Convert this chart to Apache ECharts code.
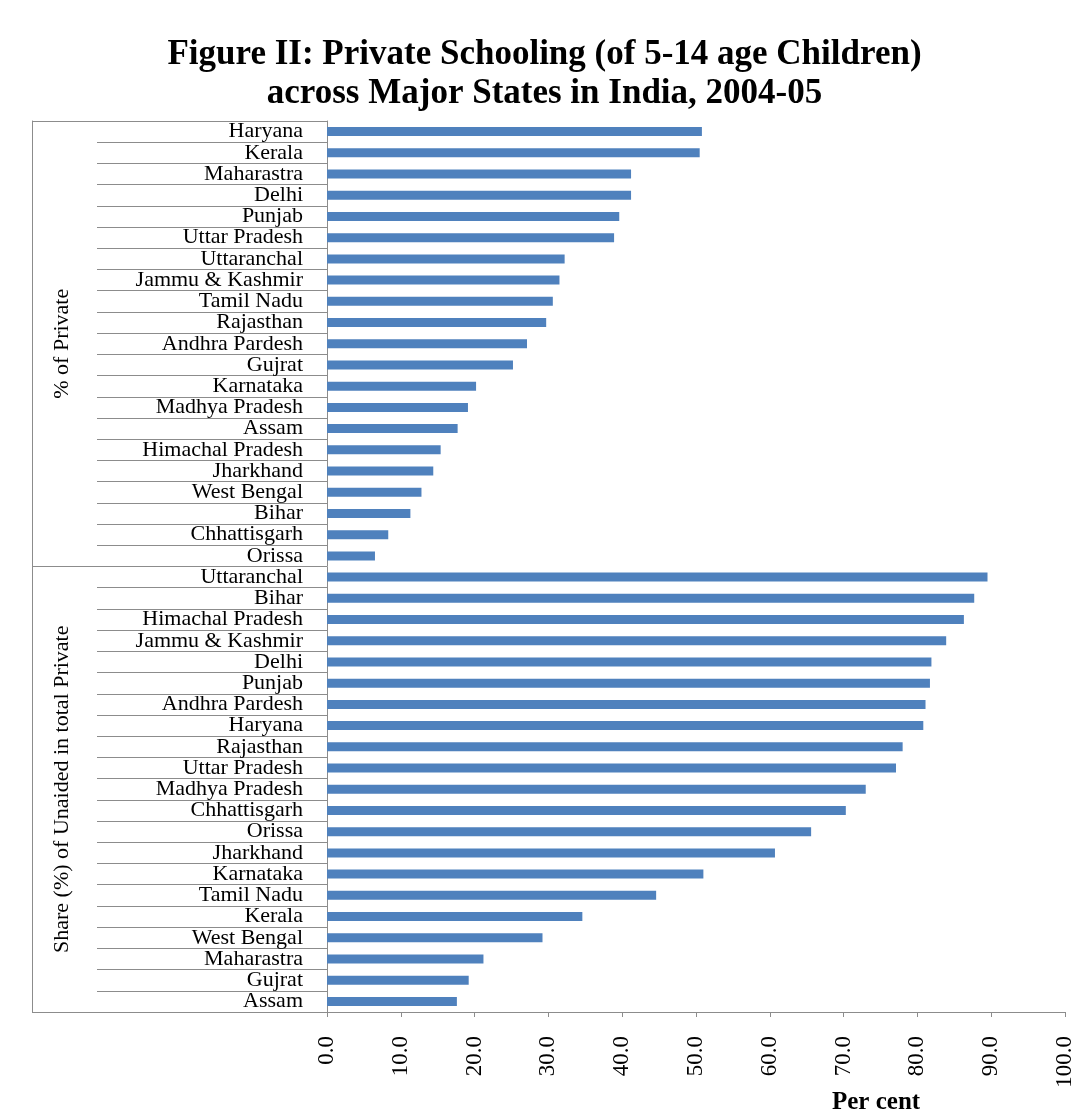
<!DOCTYPE html>
<html>
<head>
<meta charset="utf-8">
<script src="https://cdn.jsdelivr.net/npm/echarts@6/dist/echarts.min.js"></script>
<style>
html, body { margin: 0; padding: 0; background: #fff; }
#chart { width: 1089px; height: 1111px; }
</style>
</head>
<body>
<div id="chart"></div>
<script>
// % of private, 5-14 age children
var privateStates = ['Haryana', 'Kerala', 'Maharastra', 'Delhi', 'Punjab', 'Uttar Pradesh', 'Uttaranchal',
	'Jammu & Kashmir', 'Tamil Nadu', 'Rajasthan', 'Andhra Pardesh', 'Gujrat', 'Karnataka', 'Madhya Pradesh',
	'Assam', 'Himachal Pradesh', 'Jharkhand', 'West Bengal', 'Bihar', 'Chhattisgarh', 'Orissa'];
var privateShare = [50.8, 50.5, 41.2, 41.2, 39.6, 38.9, 32.2, 31.5, 30.6, 29.7, 27.1, 25.2, 20.2, 19.1,
	17.7, 15.4, 14.4, 12.8, 11.3, 8.3, 6.5];

// share of unaided in total private
var unaidedStates = ['Uttaranchal', 'Bihar', 'Himachal Pradesh', 'Jammu & Kashmir', 'Delhi', 'Punjab',
	'Andhra Pardesh', 'Haryana', 'Rajasthan', 'Uttar Pradesh', 'Madhya Pradesh', 'Chhattisgarh', 'Orissa',
	'Jharkhand', 'Karnataka', 'Tamil Nadu', 'Kerala', 'West Bengal', 'Maharastra', 'Gujrat', 'Assam'];
var unaidedShare = [89.5, 87.7, 86.3, 83.9, 81.9, 81.7, 81.1, 80.8, 78.0, 77.1, 73.0, 70.3, 65.6,
	60.7, 51.0, 44.6, 34.6, 29.2, 21.2, 19.2, 17.6];

var groups = ['% of Private', 'Share (%) of Unaided in total Private'];

var serif = "'Liberation Serif', 'Times New Roman', serif";
var lineGrey = '#8c8c8c';

var myChart = echarts.init(document.getElementById('chart'));

var option = {
	backgroundColor: '#fff',
	animation: false,
	title: [{
		text: 'Figure II: Private Schooling (of 5-14 age Children)\nacross Major States in India, 2004-05',
		left: 'center',
		top: 30,
		textStyle: {
			fontFamily: serif,
			fontSize: 35,
			fontWeight: 'bold',
			lineHeight: 39,
			color: '#000'
		}
	}, {
		text: 'Per cent',
		left: 827,
		top: 1085,
		textStyle: {
			fontFamily: serif,
			fontSize: 25,
			fontWeight: 'bold',
			color: '#000'
		}
	}],
	grid: {
		left: 327,
		right: 24,
		top: 121,
		bottom: 99
	},
	xAxis: {
		type: 'value',
		min: 0,
		max: 100,
		interval: 10,
		splitLine: { show: false },
		axisLine: { show: true, lineStyle: { color: lineGrey, width: 1 } },
		axisTick: { show: true, length: 5, lineStyle: { color: lineGrey } },
		axisLabel: {
			rotate: 90,
			margin: 24,
			fontFamily: serif,
			fontSize: 23,
			color: '#000',
			formatter: function(v) { return v.toFixed(1); }
		}
	},
	yAxis: [{
		type: 'category',
		inverse: true,
		data: privateStates.concat(unaidedStates),
		axisLine: { show: true, lineStyle: { color: lineGrey, width: 1 } },
		axisTick: { show: true, length: 230, lineStyle: { color: lineGrey } },
		axisLabel: {
			margin: 24,
			fontFamily: serif,
			fontSize: 22,
			color: '#000',
			interval: 0
		}
	}, {
		type: 'category',
		inverse: true,
		position: 'left',
		offset: 295,
		data: groups,
		axisLine: { show: true, lineStyle: { color: lineGrey, width: 1 } },
		axisTick: { show: true, inside: true, length: 295, lineStyle: { color: lineGrey } },
		axisLabel: {
			inside: true,
			rotate: 90,
			margin: 19,
			fontFamily: serif,
			fontSize: 22,
			color: '#000',
			interval: 0
		}
	}],
	series: [{
		type: 'bar',
		yAxisIndex: 0,
		barWidth: 9,
		itemStyle: { color: '#4f81bd' },
		data: privateShare.concat(unaidedShare)
	}]
};

myChart.setOption(option);
</script>
</body>
</html>
